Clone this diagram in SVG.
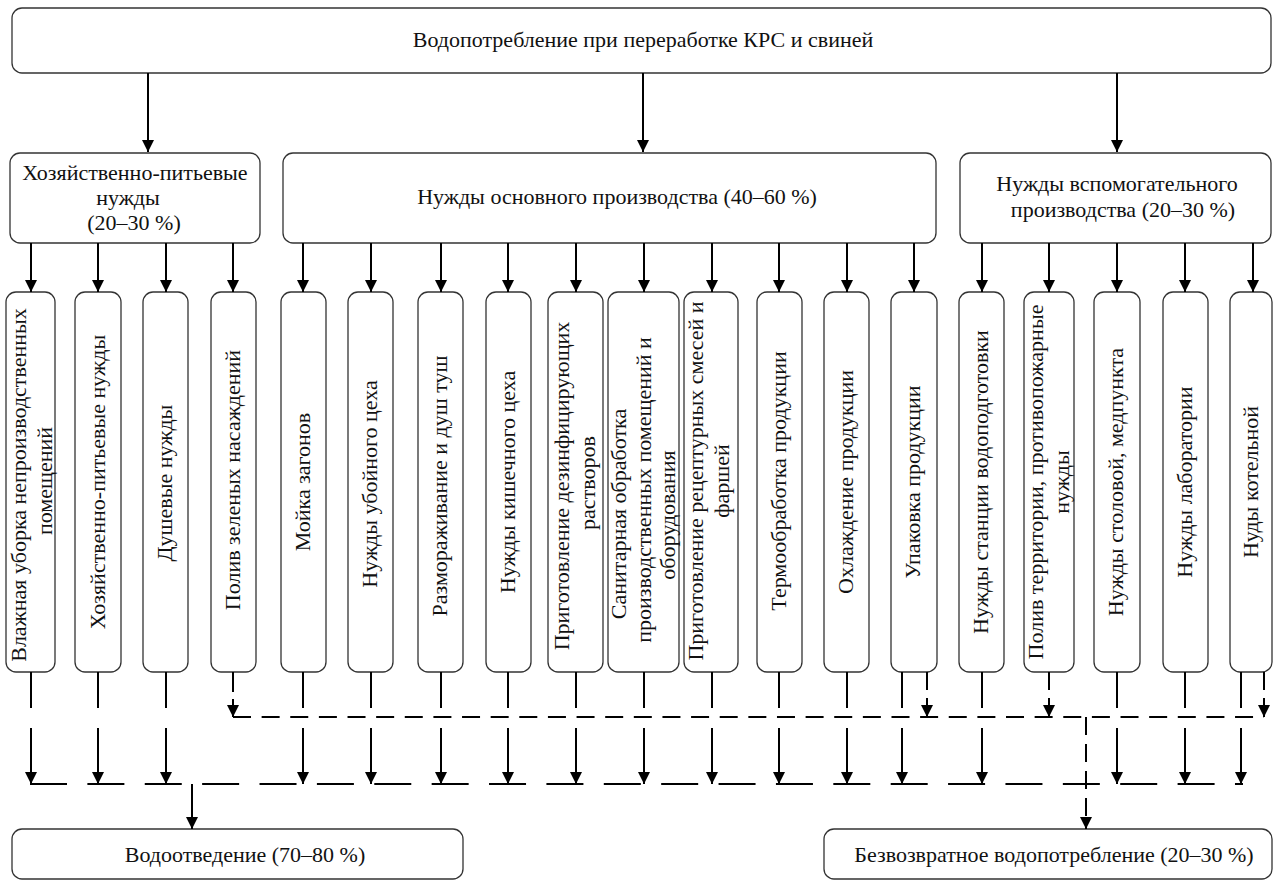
<svg xmlns="http://www.w3.org/2000/svg" width="1274" height="880" viewBox="0 0 1274 880">
<defs>
<style>
.box{fill:#fff;stroke:#333;stroke-width:1.3}
.t{font-family:"Liberation Serif","Times New Roman",serif;font-size:22px;fill:#111}
.m{text-anchor:middle}
.c{stroke:#000;stroke-width:2;fill:none}
.d1{stroke-dasharray:18 10.63}
.d2{stroke-dasharray:37 20.38}
.d3{stroke-dasharray:18 9}
</style>
<marker id="ah" viewBox="0 0 12 12" refX="12" refY="6" markerWidth="12" markerHeight="12" markerUnits="userSpaceOnUse" orient="auto">
<path d="M0,0 L12,6 L0,12 z" fill="#000"/>
</marker>
</defs>
<rect width="1274" height="880" fill="#fff"/>

<g id="n-top">
<rect class="box" x="12" y="8" width="1259" height="65" rx="10"/>
<text class="t m" x="643" y="47">Водопотребление при переработке КРС и свиней</text>
</g>

<g id="n-household">
<rect class="box" x="10" y="153" width="250" height="90" rx="10"/>
<text class="t m" x="135" y="180">Хозяйственно-питьевые</text>
<text class="t m" x="128" y="205">нужды</text>
<text class="t m" x="134" y="230">(20–30 %)</text>
</g>
<g id="n-main">
<rect class="box" x="283" y="153" width="653" height="90" rx="10"/>
<text class="t m" x="617" y="204">Нужды основного производства (40–60 %)</text>
</g>
<g id="n-aux">
<rect class="box" x="960" y="153" width="311" height="90" rx="10"/>
<text class="t m" x="1117" y="191">Нужды вспомогательного</text>
<text class="t m" x="1123" y="217">производства (20–30 %)</text>
</g>

<g id="v1"><rect class="box" x="6" y="292" width="49" height="380" rx="10"/>
<text class="t m" transform="translate(26,485) rotate(-90)">Влажная уборка непроизводственных</text>
<text class="t m" transform="translate(52,481) rotate(-90)">помещений</text></g>
<g id="v2"><rect class="box" x="75" y="292" width="46" height="380" rx="10"/>
<text class="t m" transform="translate(104.5,482) rotate(-90)">Хозяйственно-питьевые нужды</text></g>
<g id="v3"><rect class="box" x="143" y="292" width="45" height="380" rx="10"/>
<text class="t m" transform="translate(172,483) rotate(-90)">Душевые нужды</text></g>
<g id="v4"><rect class="box" x="211" y="292" width="45" height="380" rx="10"/>
<text class="t m" transform="translate(240,480) rotate(-90)">Полив зеленых насаждений</text></g>
<g id="v5"><rect class="box" x="281" y="292" width="45" height="380" rx="10"/>
<text class="t m" transform="translate(310,482) rotate(-90)">Мойка загонов</text></g>
<g id="v6"><rect class="box" x="348" y="292" width="45" height="380" rx="10"/>
<text class="t m" transform="translate(377,484) rotate(-90)">Нужды убойного цеха</text></g>
<g id="v7"><rect class="box" x="418" y="292" width="45" height="380" rx="10"/>
<text class="t m" transform="translate(447,486) rotate(-90)">Размораживание и душ туш</text></g>
<g id="v8"><rect class="box" x="486" y="292" width="45" height="380" rx="10"/>
<text class="t m" transform="translate(515,482) rotate(-90)">Нужды кишечного цеха</text></g>
<g id="v9"><rect class="box" x="548" y="292" width="55" height="380" rx="10"/>
<text class="t m" transform="translate(569,486) rotate(-90)">Приготовление дезинфицирующих</text>
<text class="t m" transform="translate(595,483) rotate(-90)">растворов</text></g>
<g id="v10"><rect class="box" x="608" y="292" width="71" height="380" rx="10"/>
<text class="t m" transform="translate(626,514) rotate(-90)">Санитарная обработка</text>
<text class="t m" transform="translate(651,490) rotate(-90)">производственных помещений и</text>
<text class="t m" transform="translate(675,515) rotate(-90)">оборудования</text></g>
<g id="v11"><rect class="box" x="684" y="292" width="54" height="380" rx="10"/>
<text class="t m" transform="translate(703,481) rotate(-90)">Приготовление рецептурных смесей и</text>
<text class="t m" transform="translate(729,481) rotate(-90)">фаршей</text></g>
<g id="v12"><rect class="box" x="757" y="292" width="45" height="380" rx="10"/>
<text class="t m" transform="translate(786,481) rotate(-90)">Термообработка продукции</text></g>
<g id="v13"><rect class="box" x="824" y="292" width="45" height="380" rx="10"/>
<text class="t m" transform="translate(853,482) rotate(-90)">Охлаждение продукции</text></g>
<g id="v14"><rect class="box" x="891" y="292" width="46" height="380" rx="10"/>
<text class="t m" transform="translate(920,482) rotate(-90)">Упаковка продукции</text></g>
<g id="v15"><rect class="box" x="959" y="292" width="45" height="380" rx="10"/>
<text class="t m" transform="translate(988,482) rotate(-90)">Нужды станции водоподготовки</text></g>
<g id="v16"><rect class="box" x="1024" y="292" width="50" height="380" rx="10"/>
<text class="t m" transform="translate(1043,482) rotate(-90)">Полив территории, противопожарные</text>
<text class="t m" transform="translate(1069,482) rotate(-90)">нужды</text></g>
<g id="v17"><rect class="box" x="1094" y="292" width="46" height="380" rx="10"/>
<text class="t m" transform="translate(1123,482) rotate(-90)">Нужды столовой, медпункта</text></g>
<g id="v18"><rect class="box" x="1163" y="292" width="45" height="380" rx="10"/>
<text class="t m" transform="translate(1192,482) rotate(-90)">Нужды лаборатории</text></g>
<g id="v19"><rect class="box" x="1230" y="292" width="42" height="380" rx="10"/>
<text class="t m" transform="translate(1258,482) rotate(-90)">Нуды котельной</text></g>

<g id="n-drain">
<rect class="box" x="12" y="829" width="451" height="50" rx="10"/>
<text class="t m" x="245" y="862">Водоотведение (70–80 %)</text>
</g>
<g id="n-loss">
<rect class="box" x="824" y="829" width="448" height="50" rx="10"/>
<text class="t m" x="1054" y="862">Безвозвратное водопотребление (20–30 %)</text>
</g>

<g id="connectors" class="c">
<path marker-end="url(#ah)" d="M148,73V152"/>
<path marker-end="url(#ah)" d="M643,73V152"/>
<path marker-end="url(#ah)" d="M1117,73V152"/>

<path marker-end="url(#ah)" d="M31,243V292"/>
<path marker-end="url(#ah)" d="M98,243V292"/>
<path marker-end="url(#ah)" d="M166,243V292"/>
<path marker-end="url(#ah)" d="M233,243V292"/>
<path marker-end="url(#ah)" d="M303,243V292"/>
<path marker-end="url(#ah)" d="M371,243V292"/>
<path marker-end="url(#ah)" d="M441,243V292"/>
<path marker-end="url(#ah)" d="M508,243V292"/>
<path marker-end="url(#ah)" d="M576,243V292"/>
<path marker-end="url(#ah)" d="M644,243V292"/>
<path marker-end="url(#ah)" d="M712,243V292"/>
<path marker-end="url(#ah)" d="M779,243V292"/>
<path marker-end="url(#ah)" d="M847,243V292"/>
<path marker-end="url(#ah)" d="M914,243V292"/>
<path marker-end="url(#ah)" d="M982,243V292"/>
<path marker-end="url(#ah)" d="M1049,243V292"/>
<path marker-end="url(#ah)" d="M1117,243V292"/>
<path marker-end="url(#ah)" d="M1185,243V292"/>
<path marker-end="url(#ah)" d="M1253,243V292"/>

<path d="M31,672V708M98,672V708M166,672V708M303,672V708M371,672V708M441,672V708M508,672V708M576,672V708M644,672V708M712,672V708M779,672V708M847,672V708M902,672V708M982,672V708M1117,672V708M1185,672V708M1241,672V708"/>
<path marker-end="url(#ah)" d="M31,728V784"/>
<path marker-end="url(#ah)" d="M98,728V784"/>
<path marker-end="url(#ah)" d="M166,728V784"/>
<path marker-end="url(#ah)" d="M303,728V784"/>
<path marker-end="url(#ah)" d="M371,728V784"/>
<path marker-end="url(#ah)" d="M441,728V784"/>
<path marker-end="url(#ah)" d="M508,728V784"/>
<path marker-end="url(#ah)" d="M576,728V784"/>
<path marker-end="url(#ah)" d="M644,728V784"/>
<path marker-end="url(#ah)" d="M712,728V784"/>
<path marker-end="url(#ah)" d="M779,728V784"/>
<path marker-end="url(#ah)" d="M847,728V784"/>
<path marker-end="url(#ah)" d="M902,728V784"/>
<path marker-end="url(#ah)" d="M982,728V784"/>
<path marker-end="url(#ah)" d="M1117,728V784"/>
<path marker-end="url(#ah)" d="M1185,728V784"/>
<path marker-end="url(#ah)" d="M1241,728V784"/>

<path d="M233,672V692M927,672V690M1049,672V690M1264,672V690"/>
<path marker-end="url(#ah)" d="M233,699V717"/>
<path marker-end="url(#ah)" d="M927,698V717"/>
<path marker-end="url(#ah)" d="M1049,698V717"/>
<path marker-end="url(#ah)" d="M1264,698V717"/>

<path class="d1" d="M233,717H1264"/>
<path class="d2" d="M30,784H1243"/>
<path marker-end="url(#ah)" d="M192,784V829"/>
<path class="d3" marker-end="url(#ah)" d="M1086,717V829"/>
</g>
</svg>
